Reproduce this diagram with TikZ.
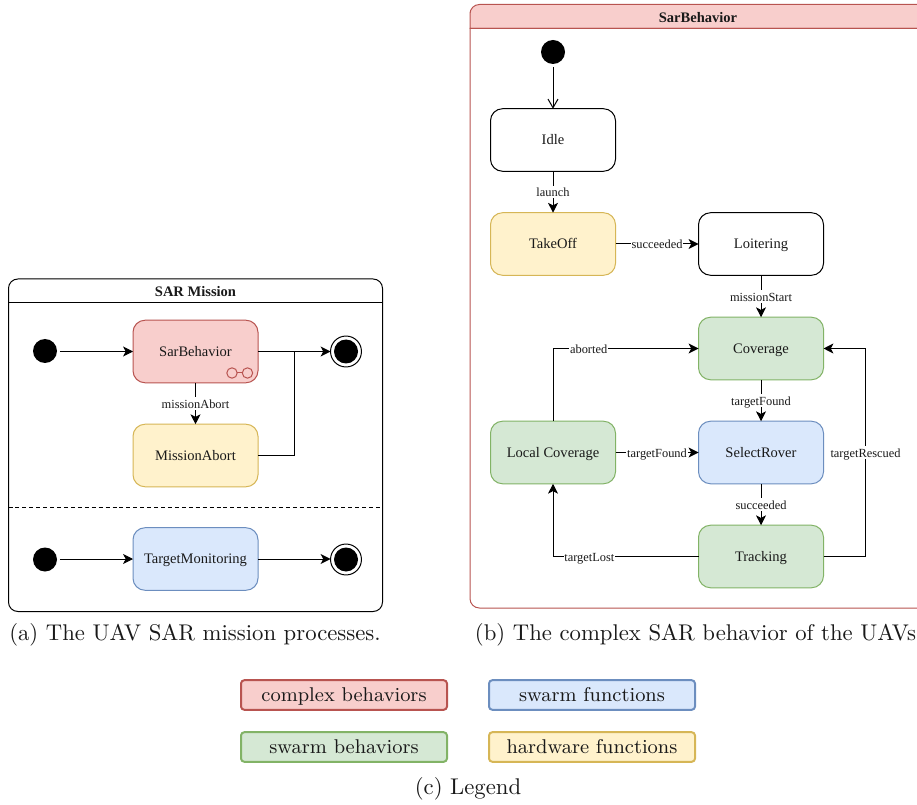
\documentclass[tikz,border=0pt]{standalone}
\usepackage{fontspec}
\usetikzlibrary{arrows.meta,calc}
\newfontfamily\dfont{Liberation Serif}
\definecolor{redF}{HTML}{F8CECC}\definecolor{redD}{HTML}{B85450}
\definecolor{blueF}{HTML}{DAE8FC}\definecolor{blueD}{HTML}{6C8EBF}
\definecolor{greenF}{HTML}{D5E8D4}\definecolor{greenD}{HTML}{82B366}
\definecolor{yellowF}{HTML}{FFF2CC}\definecolor{yellowD}{HTML}{D6B656}
\tikzset{
  baseS/.style={font=\dfont\fontsize{10.9}{12}\selectfont,text=black!90,text height=8.4pt,text depth=1.2pt},
  stateS/.style={baseS,draw,rounded corners=9pt,minimum width=93.75pt,minimum height=46.9pt,outer sep=0pt,inner sep=0pt,line width=.75pt},
  plainS/.style={stateS,fill=white,draw=black},
  redS/.style={stateS,fill=redF,draw=redD},
  blueS/.style={stateS,fill=blueF,draw=blueD},
  greenS/.style={stateS,fill=greenF,draw=greenD},
  yellowS/.style={stateS,fill=yellowF,draw=yellowD},
  startN/.style={circle,fill=black,minimum size=18pt,inner sep=0pt,outer sep=2.2pt},
  endN/.style={circle,draw=black,fill=white,line width=.75pt,minimum size=23.2pt,inner sep=0pt,outer sep=0pt,path picture={\fill[black] (path picture bounding box.center) circle (9pt);}},
  conn/.style={line width=.75pt,-{Stealth[length=7.4pt,width=7.4pt,inset=1.9pt]}},
  seg/.style={line width=.75pt},
  openconn/.style={line width=.75pt,-{Straight Barb[length=6.5pt,width=7.5pt]}},
  lab/.style={font=\dfont\fontsize{9.3}{10}\selectfont,fill=white,inner sep=.6pt,text=black!90,text height=7.8pt,text depth=.5pt},
  ttl/.style={font=\dfont\bfseries\fontsize{10.9}{12}\selectfont,text=black!90,text height=8.4pt,text depth=1.2pt},
  legendS/.style={rounded corners=2.5pt,line width=1.5pt,minimum width=154.5pt,minimum height=22.2pt,inner sep=0pt,text=black!90},
  capN/.style={font=\fontsize{10}{12}\selectfont,inner sep=0pt,text=black!90,scale=1.704,text height=7.9pt,text depth=1.5pt},
  legT/.style={font=\fontsize{9}{11}\selectfont,inner sep=0pt,text=black!90,scale=1.66,text height=7.15pt,text depth=1.35pt},
}
\begin{document}
\begin{tikzpicture}[x=.75pt,y=-.75pt]
\useasboundingbox (0,0) rectangle (917,805);
% left container
\draw[line width=.75pt,rounded corners=7pt,fill=white] (8.5,279) rectangle (382.5,611.5);
\draw[line width=.75pt] (8.5,303) -- (382.5,303);
\draw[line width=.75pt,dash pattern=on 3pt off 2.2pt] (8.5,507.5) -- (382.5,507.5);
\node[ttl] (t1) at (195.5,292) {SAR Mission};
% left nodes
\node[startN] (i1) at (45,351) {};
\node[redS] (sb) at (195.5,351.5) {SarBehavior};
\node[yellowS] (ma) at (195.5,455.5) {MissionAbort};
\node[endN] (f1) at (346,351.5) {};
\node[startN] (i2) at (45,559.5) {};
\node[blueS] (tm) at (195.5,559) {TargetMonitoring};
\node[endN] (f2) at (346,559.5) {};
% icon
\draw[redD,line width=.75pt] ($(sb.center)+(36.5,21.5)$) circle (3.9pt);
\draw[redD,line width=.75pt] ($(sb.center)+(52,21.5)$) circle (3.9pt);
\draw[redD,line width=.75pt] ($(sb.center)+(41.7,21.5)$) -- ($(sb.center)+(46.8,21.5)$);
% left edges
\draw[conn] (i1.east |- sb.west) -- (sb.west);
\draw[conn] (sb.east) -- (f1.west);
\coordinate (m1) at (294.5,351.5);
\draw[seg] (ma.east) -| (m1);
\draw[conn] (sb.south) -- node[lab,pos=.5] {missionAbort} (ma.north);
\draw[conn] (i2.east |- tm.west) -- (tm.west);
\draw[conn] (tm.east) -- (f2.west |- tm.east);
% right container
\draw[redD,line width=.75pt,fill=redF] (917,28.5) -- (470,28.5) -- (470,12) [rounded corners=7pt] -- (470,4.5) -- (917,4.5);
\draw[redD,line width=.75pt,fill=white,rounded corners=7pt] (917,608) -- (470,608) [sharp corners] -- (470,28.5) -- (917,28.5);
\node[ttl] (t2) at (698,18) {SarBehavior};
% right nodes
\node[startN] (i3) at (553,52) {};
\node[plainS] (idle) at (553,140) {Idle};
\node[yellowS] (to) at (553,244) {TakeOff};
\node[plainS] (lo) at (761,244) {Loitering};
\node[greenS] (co) at (761,348.5) {Coverage};
\node[blueS] (sr) at (761,452.5) {SelectRover};
\node[greenS] (tr) at (761,556.5) {Tracking};
\node[greenS] (lc) at (553,452.5) {Local Coverage};
\coordinate (c1) at (865.5,556.5);
\coordinate (c2) at (865.5,348.5);
\coordinate (c3) at (553,348.5);
\coordinate (c4) at (553,556.5);
% right edges
\draw[openconn] (i3) -- (idle.north);
\draw[conn] (idle.south) -- node[lab] {launch} (to.north);
\draw[conn] (to.east) -- node[lab] {succeeded} (lo.west);
\draw[conn] (lo.south) -- node[lab] {missionStart} (co.north);
\draw[conn] (co.south) -- node[lab] {targetFound} (sr.north);
\draw[conn] (lc.east) -- node[lab] {targetFound} (sr.west);
\draw[conn] (sr.south) -- node[lab] {succeeded} (tr.north);
\draw[conn] (lc.north) -- (c3) -- node[lab,pos=.245] {aborted} (co.west);
\draw[conn] (tr.west) -- node[lab,pos=.75] {targetLost} (c4) -- (lc.south);
\draw[conn] (tr.east) -- (c1) -- node[lab,pos=.5] {targetRescued} (c2) -- (co.east);
% captions
\node[capN] (ca) at (195,633) {(a) The UAV SAR mission processes.};
\node[capN] (cb) at (695.5,633) {(b) The complex SAR behavior of the UAVs};
\node[legendS,draw=redD,fill=redF] (l1) at (344,695) {};
\node[legendS,draw=blueD,fill=blueF] (l2) at (592,695) {};
\node[legendS,draw=greenD,fill=greenF] (l3) at (344,747) {};
\node[legendS,draw=yellowD,fill=yellowF] (l4) at (592,747) {};
\node[legT] at (l1) {complex behaviors};
\node[legT] at (l2) {swarm functions};
\node[legT] at (l3) {swarm behaviors};
\node[legT] at (l4) {hardware functions};
\node[capN] (cc) at (468,787) {(c) Legend};
\end{tikzpicture}
\end{document}
